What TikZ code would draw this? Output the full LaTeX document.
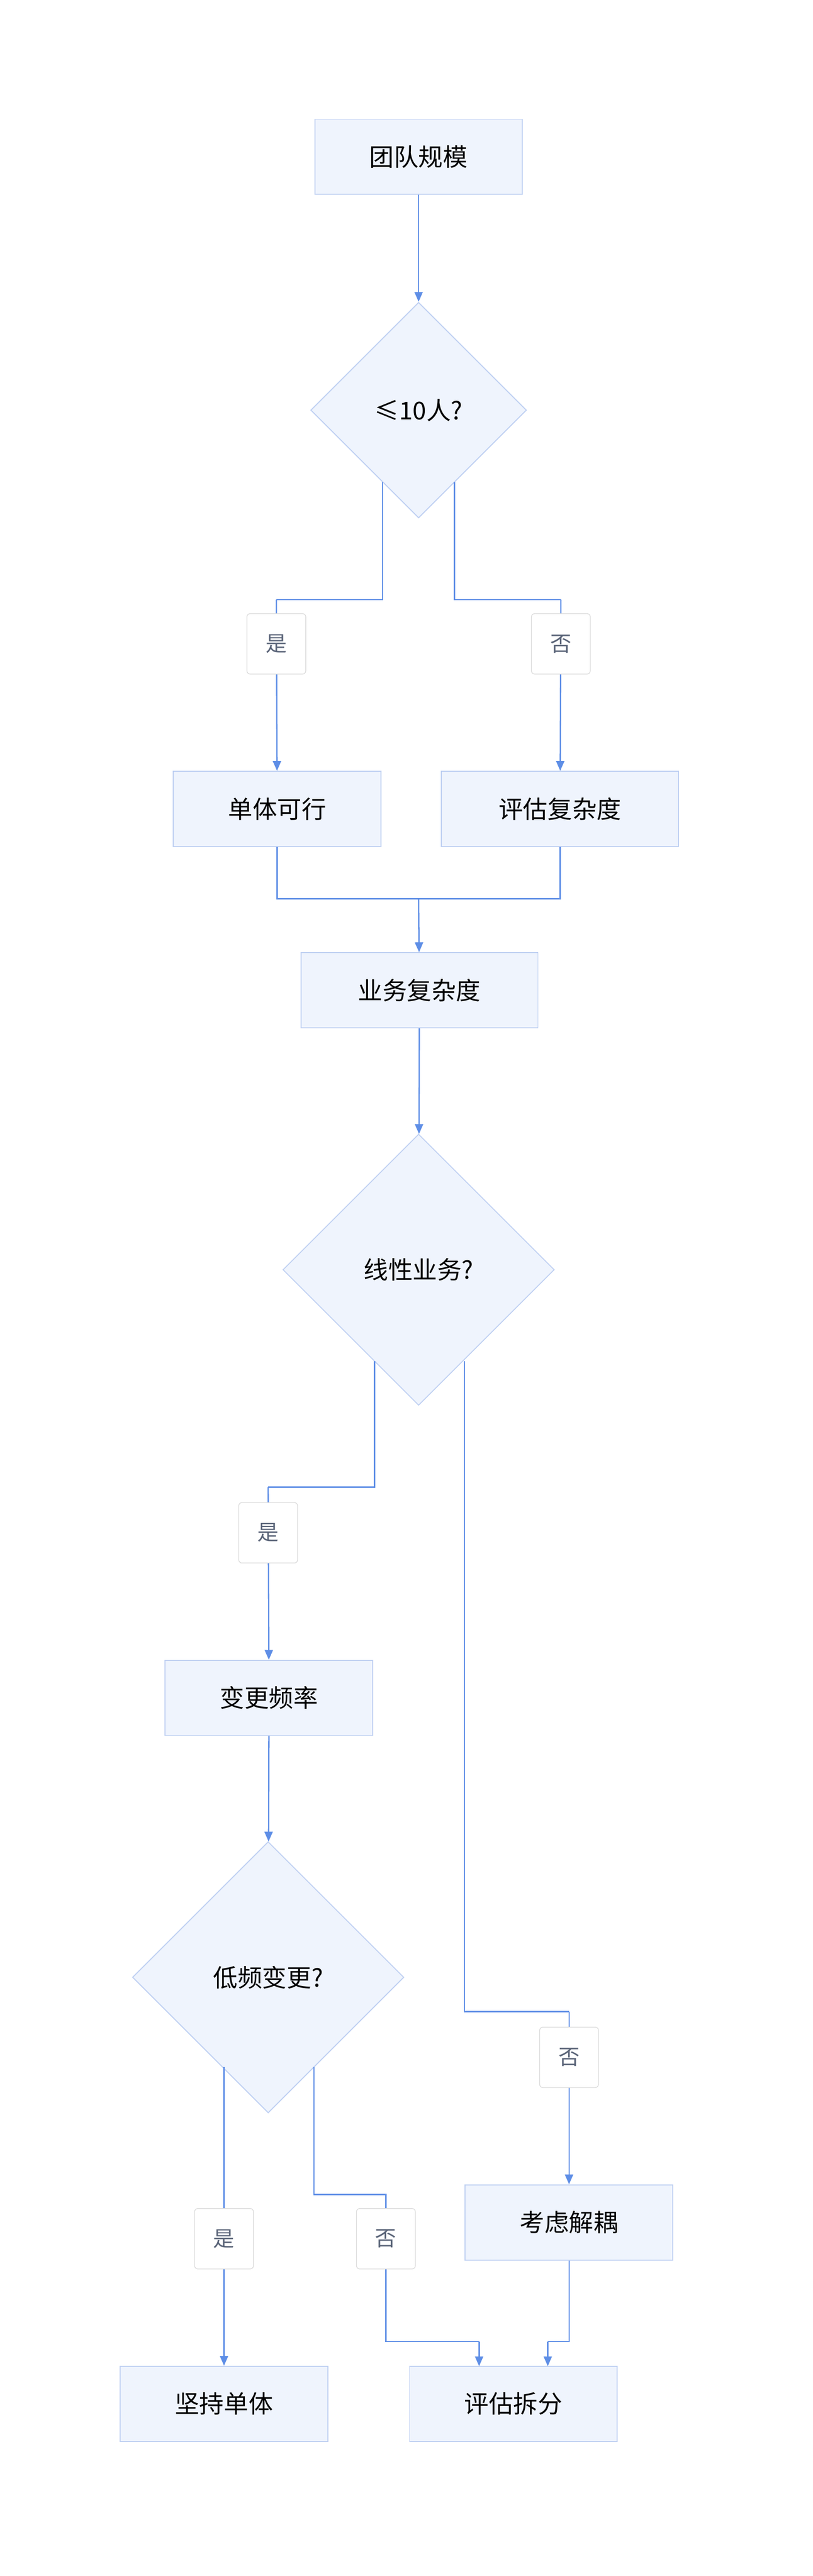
\documentclass[tikz,border=0pt]{standalone}
\usepackage{fontspec}
\setmainfont{Noto Sans CJK SC}
\usetikzlibrary{shapes.geometric,arrows.meta}
\definecolor{bfill}{HTML}{EFF4FD}
\definecolor{bdraw}{HTML}{BFD0F2}
\definecolor{eline}{HTML}{5E8EE6}
\definecolor{lbl}{HTML}{5A6478}
\begin{document}
\begin{tikzpicture}[x=1pt,y=-1pt,
 box/.style={draw=bdraw,fill=bfill,line width=0.6pt,minimum width=#1,minimum height=46pt,inner sep=0pt,font=\fontsize{15}{18}\selectfont},
 box/.default=127pt,
 dia/.style={draw=bdraw,fill=bfill,line width=0.6pt,diamond,minimum width=#1,minimum height=#1,inner sep=0pt,font=\fontsize{15}{18}\selectfont},
 lab/.style={draw=black!15,fill=white,rounded corners=2pt,minimum width=36pt,minimum height=37pt,inner sep=0pt,text=lbl,font=\fontsize{13}{16}\selectfont},
 e/.style={draw=eline,line width=0.8pt,-{Triangle[length=6pt,width=5pt]}},
 l/.style={draw=eline,line width=0.8pt}]
\useasboundingbox (0,0) rectangle (497,1576.4);
\node[box] (a) at (256,96) {团队规模};
\node[dia=132pt] (d1) at (256,251) {≤10人?};
\node[box] (b1) at (169.5,495) {单体可行};
\node[box=145pt] (b2) at (342.5,495) {评估复杂度};
\node[box=145pt] (c) at (256.5,606) {业务复杂度};
\node[dia=166pt] (d2) at (256,777) {线性业务?};
\node[box] (f) at (164.5,1039) {变更频率};
\node[dia=166pt] (d3) at (164,1210) {低频变更?};
\node[box] (k) at (348,1360) {考虑解耦};
\node[box] (s1) at (137,1471) {坚持单体};
\node[box] (s2) at (314,1471) {评估拆分};
\draw[e] (a) -- (d1);
\draw[l] (234,295) |- (169,367);
\draw[e] (169,367) -- (b1);
\draw[l] (278,295) |- (343,367);
\draw[e] (343,367) -- (b2);
\node[lab] (y1) at (169,394) {是};
\node[lab] (n1) at (343,394) {否};
\draw[l] (b1.south) |- (256,550);
\draw[l] (b2.south) |- (256,550);
\draw[e] (256,550) -- (c);
\draw[e] (c) -- (d2);
\draw[l] (229,833) |- (164,910);
\draw[e] (164,910) -- (f);
\node[lab] (y2) at (164,938) {是};
\draw[l] (284,833) |- (348,1231);
\draw[e] (348,1231) -- (k);
\node[lab] (n2) at (348,1259) {否};
\draw[e] (f) -- (d3);
\draw[e] (137,1265) -- (s1);
\node[lab] (y3) at (137,1370) {是};
\draw[l] (192,1265) |- (236,1343) |- (293,1433);
\draw[e] (293,1433) -- (293,1448);
\node[lab] (n3) at (236,1370) {否};
\draw[l] (k.south) |- (335,1433);
\draw[e] (335,1433) -- (335,1448);
\end{tikzpicture}
\end{document}
